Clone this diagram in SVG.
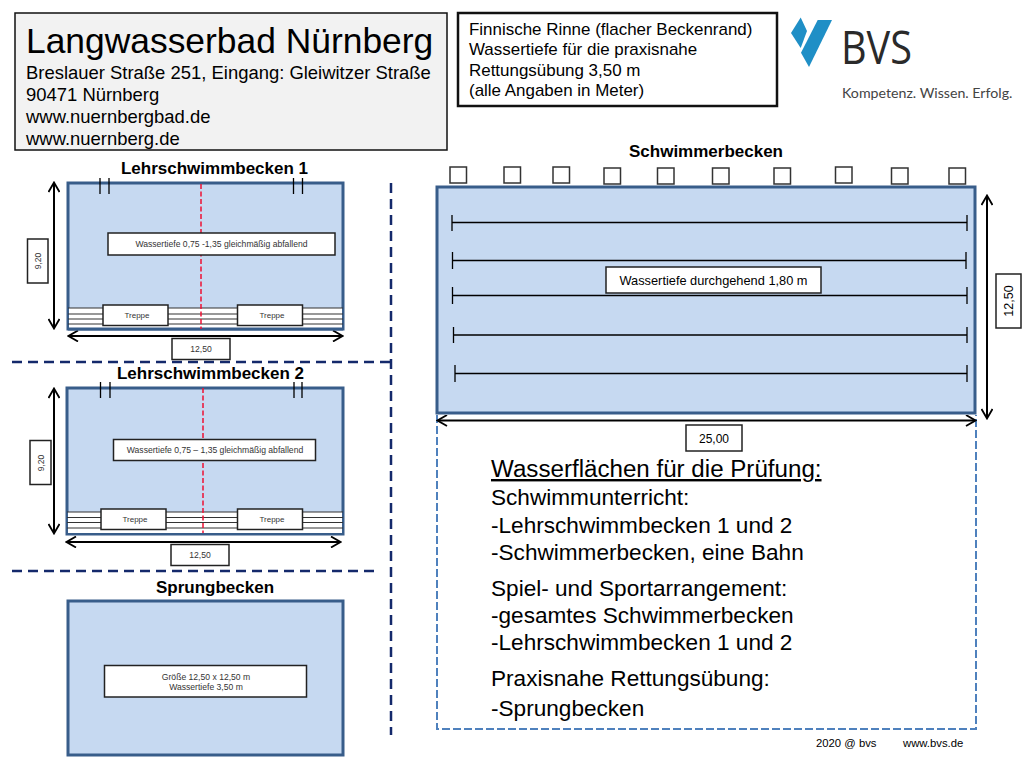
<svg xmlns="http://www.w3.org/2000/svg" width="1024" height="768" viewBox="0 0 1024 768">
<style>
text{font-family:"Liberation Sans",Arial,sans-serif;fill:#000}
.pool{fill:#c6d9f1;stroke:#385d8a;stroke-width:3}
.lbl{fill:#fff;stroke:#222;stroke-width:1.5}
.dim{fill:none;stroke:#000;stroke-width:2}
.step{fill:none;stroke:#333;stroke-width:1.2}
.thin{fill:none;stroke:#000;stroke-width:1.3}
.red{fill:none;stroke:#ee1133;stroke-width:1.5;stroke-dasharray:5 2.500}
.navy{fill:none;stroke:#14296b;stroke-width:2.5;stroke-dasharray:10 6}
.blue{fill:none;stroke:#4f81bd;stroke-width:2;stroke-dasharray:8 3}
.sq{fill:#fff;stroke:#333;stroke-width:1.5}
.t9{font-size:8.600px;text-anchor:middle;fill:#333}
.t8{font-size:8px;text-anchor:middle;fill:#333}
.h{font-size:17px;font-weight:bold;text-anchor:middle}
.addr{font-size:18.450px}
.fin{font-size:16.950px}
.big{font-size:22.600px}
</style>
<defs>
<marker id="a" viewBox="0 0 12 12" refX="10" refY="6" markerWidth="12" markerHeight="12" markerUnits="userSpaceOnUse" orient="auto-start-reverse"><path d="M1 0.500L10.500 6L1 11.500" fill="none" stroke="#000" stroke-width="1.8"/></marker>
</defs>

<g id="title-box">
<rect x="15" y="13" width="432" height="137" fill="#f2f2f2" stroke="#111" stroke-width="1.5"/>
<text x="26" y="53" font-size="35.400">Langwasserbad Nürnberg</text>
<text class="addr" x="26" y="79">Breslauer Straße 251, Eingang: Gleiwitzer Straße</text>
<text class="addr" x="26" y="101">90471 Nürnberg</text>
<text class="addr" x="26" y="123">www.nuernbergbad.de</text>
<text class="addr" x="26" y="145">www.nuernberg.de</text>
</g>

<g id="info-box">
<rect x="458" y="13" width="319" height="93" fill="#fff" stroke="#111" stroke-width="2.500"/>
<text class="fin" x="469" y="35">Finnische Rinne (flacher Beckenrand)</text>
<text class="fin" x="469" y="55">Wassertiefe für die praxisnahe</text>
<text class="fin" x="469" y="76">Rettungsübung 3,50 m</text>
<text class="fin" x="469" y="96">(alle Angaben in Meter)</text>
</g>

<g id="logo">
<path d="M800.700 17.500L807 31L800.700 48L791 33Z" fill="#1f8fc6"/>
<path d="M817.700 20L832 20L809 67L801 52.700Z" fill="#1f8fc6"/>
<text x="841" y="64" font-size="46" style="font-family:'Open Sans',sans-serif;fill:#2a2a2a" textLength="71" lengthAdjust="spacingAndGlyphs">BVS</text>
<text x="842" y="98" font-size="14.200" style="font-family:Lato,sans-serif;fill:#444">Kompetenz. Wissen. Erfolg.</text>
</g>

<g id="connectors">
<path class="navy" d="M12 362H391M391 183V735M12 571H378"/>
<path class="blue" d="M437 415V729H976V415"/>
<path class="dim" d="M54 183V328" marker-start="url(#a)" marker-end="url(#a)"/>
<path class="dim" d="M69 336H342" marker-start="url(#a)" marker-end="url(#a)"/>
<path class="dim" d="M54 389V533" marker-start="url(#a)" marker-end="url(#a)"/>
<path class="dim" d="M67 542H340" marker-start="url(#a)" marker-end="url(#a)"/>
<path class="dim" d="M987 196V418" marker-start="url(#a)" marker-end="url(#a)" stroke-width="2.500"/>
<path class="dim" d="M438 420.500H975" marker-start="url(#a)" marker-end="url(#a)"/>
</g>

<g id="lehrschwimmbecken-1">
<text class="h" x="214.500" y="174">Lehrschwimmbecken 1</text>
<rect class="pool" x="68" y="183" width="275" height="146"/>
<rect x="69" y="308" width="273" height="20" fill="#fff"/>
<path class="step" d="M68 308H343M68 314H343M68 319H343M68 324H343"/>
<path class="pool" style="fill:none" d="M68 329H343"/>
<path class="thin" d="M100 178V194M109 178V194M293.500 178V194M302.500 178V194"/>
<path class="red" d="M201 184V329"/>
<rect class="lbl" x="108" y="233" width="227" height="22"/>
<text class="t9" x="221.500" y="247">Wassertiefe 0,75 -1,35 gleichmäßig abfallend</text>
<rect class="lbl" x="103" y="305" width="65" height="20.500"/>
<text class="t8" x="137" y="318">Treppe</text>
<rect class="lbl" x="237.500" y="305" width="65" height="20.500"/>
<text class="t8" x="272" y="318">Treppe</text>
<rect class="lbl" x="27.500" y="239" width="20.500" height="44"/>
<text class="t9" transform="translate(41 261) rotate(-90)">9,20</text>
<rect class="lbl" x="172" y="338.500" width="58" height="21"/>
<text class="t9" x="201" y="352">12,50</text>
</g>

<g id="lehrschwimmbecken-2">
<text class="h" x="210.500" y="379">Lehrschwimmbecken 2</text>
<rect class="pool" x="67" y="388" width="276" height="146"/>
<rect x="68" y="512" width="274" height="21" fill="#fff"/>
<path class="step" d="M67 512H343M67 517.500H343M67 522.500H343M67 528H343"/>
<path class="thin" d="M100.500 382V398M110 382V398M294 382V398M302 382V398"/>
<path class="red" d="M203 388V533"/>
<rect class="lbl" x="113.500" y="439.500" width="202" height="21"/>
<text class="t9" x="215" y="453">Wassertiefe 0,75 – 1,35 gleichmäßig abfallend</text>
<rect class="lbl" x="101" y="509" width="65" height="20.500"/>
<text class="t8" x="135" y="522">Treppe</text>
<rect class="lbl" x="237.500" y="509" width="65" height="20.500"/>
<text class="t8" x="272" y="522">Treppe</text>
<rect class="lbl" x="30" y="440.500" width="21" height="44"/>
<text class="t9" transform="translate(44 463) rotate(-90)">9,20</text>
<rect class="lbl" x="171" y="544.500" width="58" height="21"/>
<text class="t9" x="200" y="558">12,50</text>
</g>

<g id="sprungbecken">
<text class="h" x="215" y="593">Sprungbecken</text>
<rect class="pool" x="68" y="601" width="275" height="154"/>
<rect class="lbl" x="104.500" y="665.500" width="202" height="31.500"/>
<text class="t9" x="206" y="680">Größe 12,50 x 12,50 m</text>
<text class="t9" x="206" y="690">Wassertiefe 3,50 m</text>
</g>

<g id="schwimmerbecken">
<text class="h" x="706" y="157">Schwimmerbecken</text>
<rect class="sq" x="450" y="167" width="16.500" height="16"/>
<rect class="sq" x="504" y="167" width="16.500" height="16"/>
<rect class="sq" x="553" y="167" width="16.500" height="16"/>
<rect class="sq" x="604" y="168" width="16.500" height="16"/>
<rect class="sq" x="657.500" y="168" width="16.500" height="16"/>
<rect class="sq" x="712.500" y="168" width="16.500" height="16"/>
<rect class="sq" x="774" y="168" width="16.500" height="16"/>
<rect class="sq" x="835.500" y="167" width="16.500" height="16"/>
<rect class="sq" x="891.500" y="168" width="16.500" height="16"/>
<rect class="sq" x="949" y="168" width="16.500" height="16"/>
<rect class="pool" x="437" y="187" width="538" height="226"/>
<path class="thin" d="M452 222.500H967M452 215V231M967 215V231"/>
<path class="thin" d="M452.500 260.500H966M452.500 252V269M966 252V269"/>
<path class="thin" d="M452.500 295.500H967M452.500 287V304M967 287V304"/>
<path class="thin" d="M453.500 335H967M453.500 327V343M967 327V343"/>
<path class="thin" d="M455 373.500H967M455 365V382M967 365V382"/>
<rect class="lbl" x="606" y="267" width="215" height="26"/>
<text x="713.500" y="285" font-size="12.800" text-anchor="middle" fill="#222">Wassertiefe durchgehend 1,80 m</text>
<rect class="lbl" x="996" y="274" width="25" height="54"/>
<text transform="translate(1013 301) rotate(-90)" font-size="12.500" text-anchor="middle">12,50</text>
<rect class="lbl" x="686" y="425" width="56" height="26"/>
<text x="714" y="443" font-size="12" text-anchor="middle">25,00</text>
</g>

<g id="pruefung">
<text x="491" y="477" font-size="24.150" text-decoration="underline">Wasserflächen für die Prüfung:</text>
<text class="big" x="491" y="505">Schwimmunterricht:</text>
<text class="big" x="491" y="533">-Lehrschwimmbecken 1 und 2</text>
<text class="big" x="491" y="560">-Schwimmerbecken, eine Bahn</text>
<text class="big" x="491" y="596">Spiel- und Sportarrangement:</text>
<text class="big" x="491" y="623">-gesamtes Schwimmerbecken</text>
<text class="big" x="491" y="650">-Lehrschwimmbecken 1 und 2</text>
<text class="big" x="491" y="686">Praxisnahe Rettungsübung:</text>
<text class="big" x="491" y="716">-Sprungbecken</text>
</g>

<g id="footer">
<text x="816" y="747" font-size="11.300">2020 @ bvs</text>
<text x="903" y="747" font-size="11.300">www.bvs.de</text>
</g>
</svg>
